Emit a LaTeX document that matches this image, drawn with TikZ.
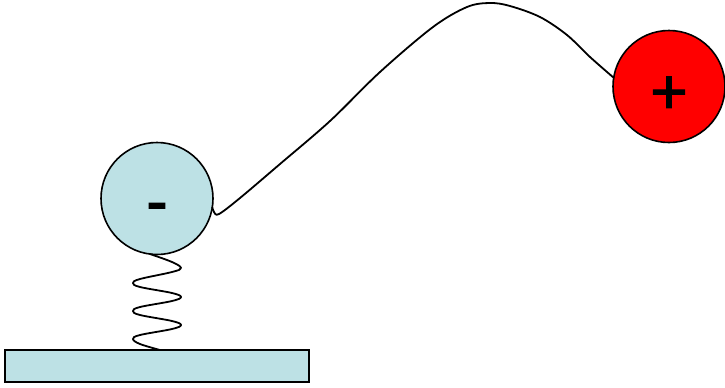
\documentclass[tikz,border=0pt]{standalone}
\usepackage{fontspec}
\setmainfont{Liberation Sans}[FakeBold=1.6]
\definecolor{paleblue}{HTML}{BDE1E5}
\begin{document}
\begin{tikzpicture}[x=0.75pt,y=-0.75pt,
  line width=1.6*0.75pt,
  ball/.style={circle,draw=black,minimum size=112*0.75pt,inner sep=0pt,outer sep=0pt},
  sign/.style={inner sep=0pt,font=\fontsize{48pt}{48pt}\selectfont},
  base/.style={rectangle,draw=black,fill=paleblue,minimum width=304*0.75pt,minimum height=32*0.75pt,inner sep=0pt,outer sep=0pt},
  wire/.style={draw=black,line width=1.8*0.75pt,line join=round,line cap=round}]
\useasboundingbox (0,0) rectangle (725,387);
\node[ball,fill=paleblue] (minus) at (157,198.5) {};
\node[ball,fill=red] (plus) at (669,86.5) {};
\node[base] (plate) at (157,366) {};
\node[sign] (minustext) at (157,213) {-};
\node[sign] (plustext) at (669,95) {+};
\coordinate (springend) at (160,350);
\draw[wire] plot[smooth,tension=0.55] coordinates {(minus.-9) (214,212) (219,214) (240,198) (280,164) (330,121) (380,72) (433,27) (467,7) (490,3) (510,6) (540,17) (567,35) (590,57) (plus.171)};
\draw[wire] plot[smooth,tension=0.6] coordinates {(minus.-97) (172,262) (181,268) (172,272) (140,279) (133,283) (140,287) (172,293) (181,297) (172,301) (140,307) (133,311) (140,315) (172,321) (181,325) (172,329) (140,335) (133,339) (140,344) (springend)};
\end{tikzpicture}
\end{document}
